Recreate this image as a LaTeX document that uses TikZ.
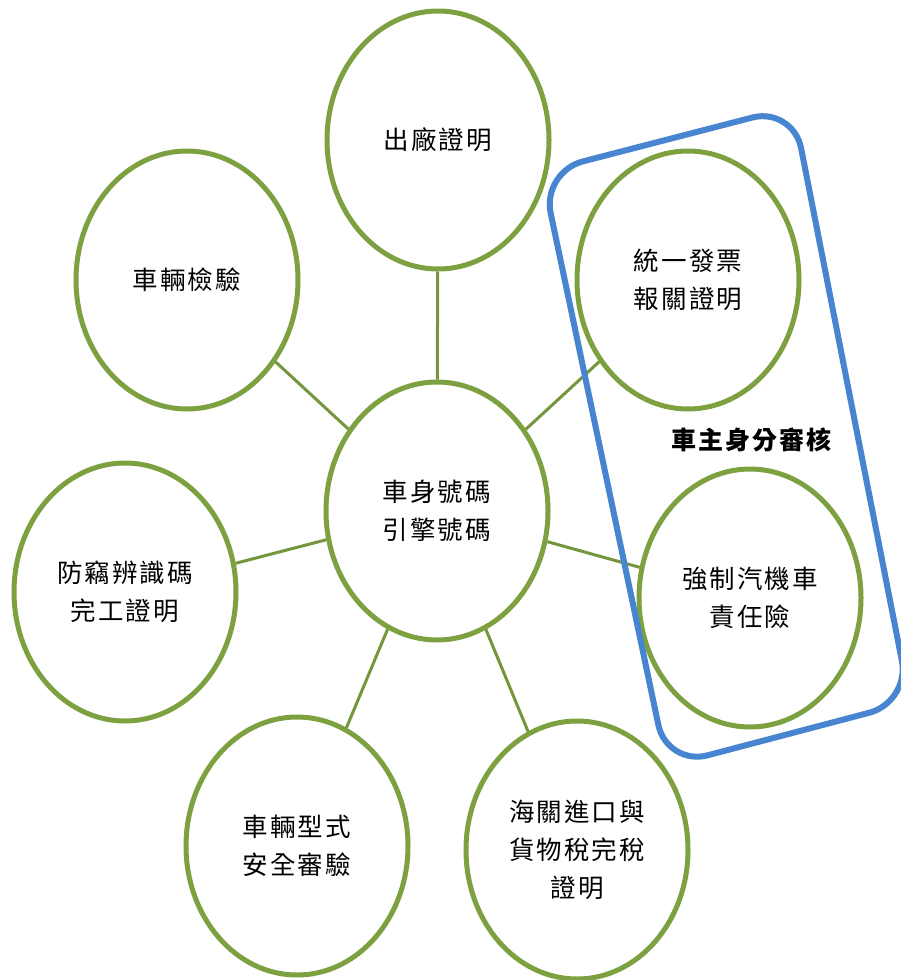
\documentclass[tikz,border=0pt]{standalone}
\usepackage{fontspec}
\newfontfamily\cjk[LetterSpace=8]{Noto Sans CJK TC}
\usetikzlibrary{shapes.geometric,calc}
\definecolor{ringgreen}{RGB}{125,160,65}
\definecolor{linkgreen}{RGB}{118,150,62}
\definecolor{boxblue}{RGB}{72,133,208}
\tikzset{
  bubble/.style={ellipse, draw=ringgreen, line width=5pt, fill=white,
    minimum width=222pt, minimum height=258pt, inner sep=0pt, align=center,
    font=\cjk\fontsize{25.5}{38}\selectfont, text=black},
  link/.style={draw=linkgreen, line width=3pt},
  groupbox/.style={draw=boxblue, line width=6pt, rounded corners=42pt},
  grouplabel/.style={font=\cjk\bfseries\fontsize{25}{30}\selectfont, text=black}
}
\begin{document}
\begin{tikzpicture}[x=1pt,y=-1pt]
\useasboundingbox (0,0) rectangle (901,980);
\fill[white] (0,0) rectangle (901,980);
% nodes
\node[bubble] (hub) at (437,511) {車身號碼\\引擎號碼};
\node[bubble] (factory) at (438,140) {出廠證明};
\node[bubble] (inspect) at (187,280) {車輛檢驗};
\node[bubble] (invoice) at (688,280) {統一發票\\報關證明};
\node[bubble] (insure) at (750,598) {強制汽機車\\責任險};
\node[bubble] (theft) at (125,592) {防竊辨識碼\\完工證明};
\node[bubble] (safety) at (297,846) {車輛型式\\安全審驗};
\node[bubble] (customs) at (577,850) {海關進口與\\貨物稅完稅\\證明};
% connectors
\path[link] (hub) -- (factory);
\path[link] (hub) -- (inspect);
\path[link] (hub) -- (invoice);
\path[link] (hub) -- (insure);
\path[link] (hub) -- (theft);
\path[link] (hub) -- (safety);
\path[link] (hub) -- (customs);
% group box
\coordinate (tl) at (542,172);
\coordinate (tr) at (793,107);
\coordinate (br) at (910,702);
\coordinate (bl) at (667,766);
\coordinate (topmid) at ($(tl)!0.5!(tr)$);
\draw[groupbox] (topmid) -- (tr) -- (br) -- (bl) -- (tl) -- (topmid);
\node[grouplabel] (grp) at (751,440) {車主身分審核};
\end{tikzpicture}
\end{document}
